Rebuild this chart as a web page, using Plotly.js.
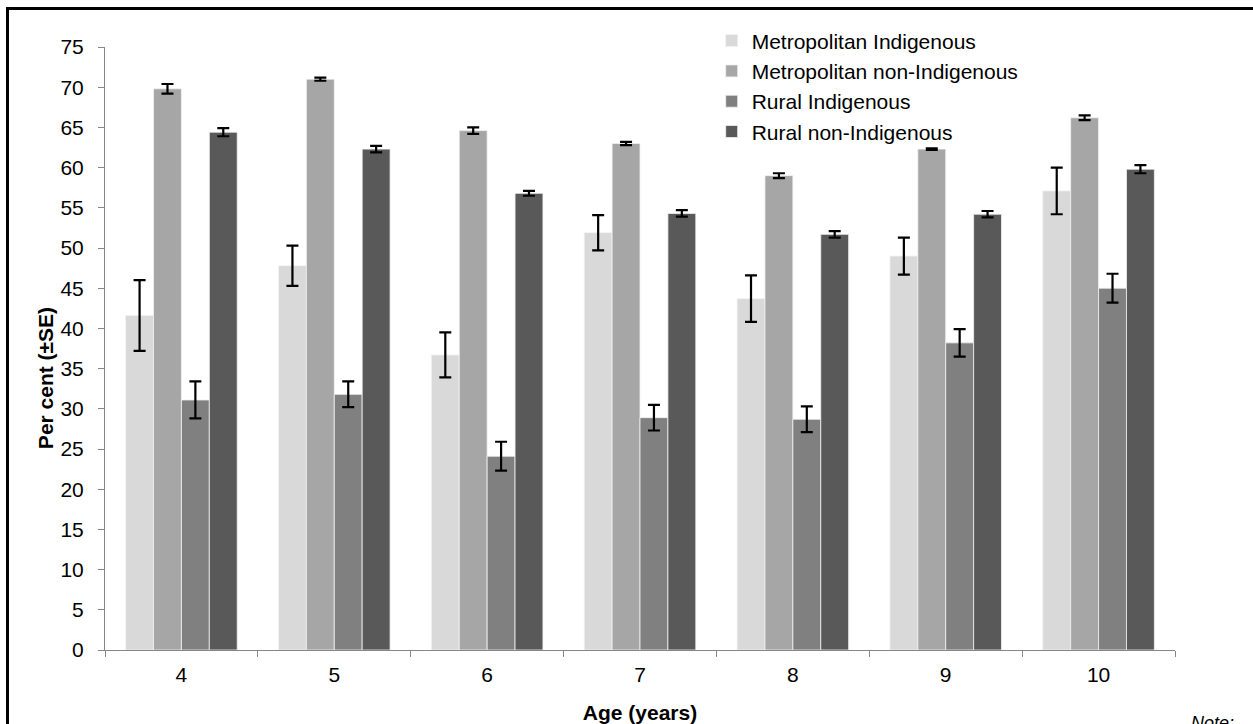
<!DOCTYPE html>
<html>
<head>
<meta charset="utf-8">
<script src="https://cdn.plot.ly/plotly-3.0.1.min.js"></script>
<style>
  html, body { margin: 0; padding: 0; background: #fff; }
  #wrap { position: relative; width: 1253px; height: 724px; overflow: hidden; }
  #chart { width: 1253px; height: 724px; }
  #frame { position: absolute; left: 6px; top: 7px; width: 1300px; height: 800px;
           border-left: 3px solid #000; border-top: 3px solid #000; pointer-events: none; }
  #note { position: absolute; left: 1191px; top: 713px; font: italic 18px "Liberation Sans", Arial, sans-serif; color: #000; }
</style>
</head>
<body>
<div id="wrap">
  <div id="chart"></div>
  <div id="frame"></div>
  <div id="note">Note:</div>
</div>
<script>
const ages = ["4", "5", "6", "7", "8", "9", "10"];
const seriesNames = ["Metropolitan Indigenous", "Metropolitan non-Indigenous", "Rural Indigenous", "Rural non-Indigenous"];
const metroIndig = [41.6, 47.8, 36.7, 51.9, 43.7, 49.0, 57.1];
const metroIndigSE = [4.4, 2.5, 2.8, 2.2, 2.9, 2.3, 2.9];
const metroNonIndig = [69.8, 71.0, 64.6, 63.0, 59.0, 62.3, 66.2];
const metroNonIndigSE = [0.6, 0.2, 0.4, 0.2, 0.3, 0.1, 0.3];
const ruralIndig = [31.1, 31.8, 24.1, 28.9, 28.7, 38.2, 45.0];
const ruralIndigSE = [2.3, 1.6, 1.8, 1.6, 1.6, 1.7, 1.8];
const ruralNonIndig = [64.4, 62.3, 56.8, 54.3, 51.7, 54.2, 59.8];
const ruralNonIndigSE = [0.5, 0.4, 0.3, 0.4, 0.4, 0.4, 0.5];
const yTicks = [0, 5, 10, 15, 20, 25, 30, 35, 40, 45, 50, 55, 60, 65, 70, 75];
const xTitle = "Age (years)";
const yTitle = "Per cent (±SE)";

const colors = ["#d9d9d9", "#a6a6a6", "#808080", "#595959"];
const values = [metroIndig, metroNonIndig, ruralIndig, ruralNonIndig];
const errs = [metroIndigSE, metroNonIndigSE, ruralIndigSE, ruralNonIndigSE];

const font = '"Liberation Sans", Arial, sans-serif';
const fs = 21;

const traces = seriesNames.map((name, i) => ({
  type: "bar",
  name: name,
  x: ages,
  y: values[i],
  marker: { color: colors[i], line: { color: "#f2f2f2", width: 0.8 } },
  error_y: { type: "data", array: errs[i], visible: true, color: "#000", thickness: 2.2, width: 6 },
  hoverinfo: "x+y+name"
}));

const layout = {
  width: 1253,
  height: 724,
  margin: { l: 105, r: 78, t: 47, b: 74 },
  paper_bgcolor: "#fff",
  plot_bgcolor: "#fff",
  barmode: "group",
  bargap: 0.27,
  bargroupgap: 0,
  showlegend: true,
  legend: {
    x: 0.567, y: 1.044, xanchor: "left", yanchor: "top",
    font: { family: font, size: fs, color: "#000" },
    bgcolor: "rgba(0,0,0,0)",
    traceorder: "normal",
    itemwidth: 30
  },
  xaxis: {
    type: "category",
    tickson: "boundaries",
    ticks: "outside",
    ticklen: 6,
    tickcolor: "#868686",
    showline: true,
    linecolor: "#868686",
    linewidth: 1,
    showgrid: false,
    zeroline: false,
    ticklabelstandoff: 6,
    tickfont: { family: font, size: fs, color: "#000" },
    title: { text: "<b>" + xTitle + "</b>", font: { family: font, size: fs, color: "#000" }, standoff: 20 }
  },
  yaxis: {
    range: [0, 75],
    tickvals: yTicks,
    ticktext: yTicks.map(String),
    ticks: "outside",
    ticklen: 6,
    tickcolor: "#868686",
    showline: true,
    linecolor: "#868686",
    linewidth: 1,
    showgrid: false,
    zeroline: false,
    ticklabelstandoff: 10,
    tickfont: { family: font, size: fs, color: "#000" }
  },
  annotations: [{
    text: "<b>" + yTitle + "</b>",
    xref: "paper", yref: "paper",
    x: -0.056, y: 0.451,
    xanchor: "center", yanchor: "middle",
    textangle: -90,
    showarrow: false,
    font: { family: font, size: fs, color: "#000" }
  }]
};

Plotly.newPlot("chart", traces, layout, { displayModeBar: false, staticPlot: true });
</script>
</body>
</html>
